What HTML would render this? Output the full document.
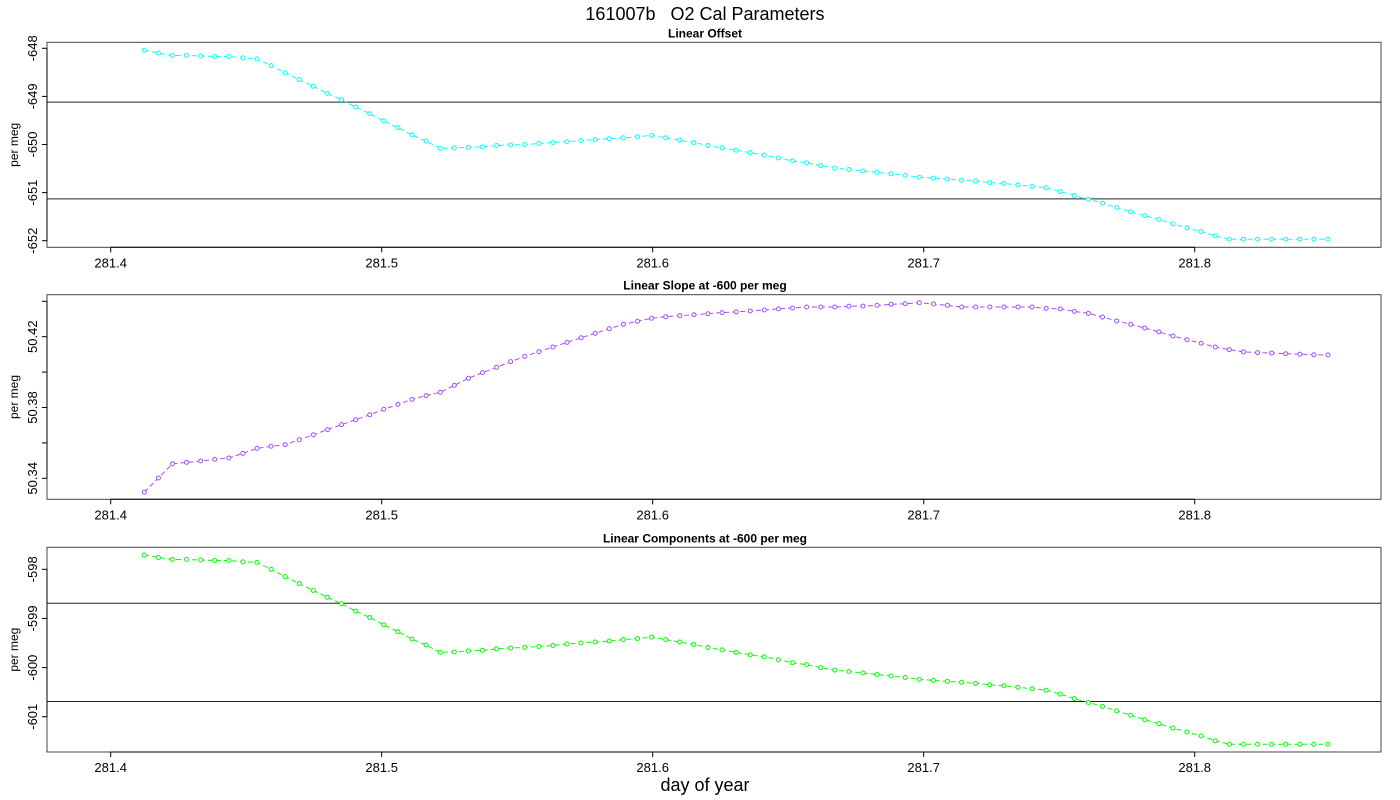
<!DOCTYPE html>
<html><head><meta charset="utf-8"><style>
html,body{margin:0;padding:0;background:#fff;}
svg{display:block;font-family:"Liberation Sans",sans-serif;}
</style></head><body>
<svg id="chart" width="1400" height="800" viewBox="0 0 1400 800">
<text x="705" y="20" font-size="18" text-anchor="middle" style="white-space:pre" xml:space="preserve">161007b   O2 Cal Parameters</text>
<text x="705" y="791" font-size="18" text-anchor="middle">day of year</text>
</svg>
<script>
const days = [281.4124,281.4176,281.4228,281.4280,281.4332,281.4384,281.4436,281.4488,281.4540,281.4592,
281.4644,281.4696,281.4748,281.4800,281.4852,281.4904,281.4956,281.5008,281.5060,281.5112,
281.5164,281.5216,281.5268,281.5320,281.5372,281.5424,281.5476,281.5528,281.5580,281.5632,
281.5684,281.5736,281.5788,281.5840,281.5892,281.5944,281.5996,281.6048,281.6100,281.6152,
281.6204,281.6256,281.6308,281.6360,281.6412,281.6464,281.6516,281.6568,281.6620,281.6672,
281.6724,281.6776,281.6828,281.6880,281.6932,281.6984,281.7036,281.7088,281.7140,281.7192,
281.7244,281.7296,281.7348,281.7400,281.7452,281.7504,281.7556,281.7608,281.7660,281.7712,
281.7764,281.7816,281.7868,281.7920,281.7972,281.8024,281.8076,281.8128,281.8180,281.8232,
281.8284,281.8336,281.8388,281.8440,281.8492];
const offsetValues = [-648.04,-648.10,-648.15,-648.15,-648.16,-648.17,-648.17,-648.20,-648.22,-648.36,
-648.51,-648.65,-648.79,-648.94,-649.07,-649.22,-649.36,-649.51,-649.65,-649.80,
-649.93,-650.08,-650.07,-650.06,-650.05,-650.02,-650.01,-650.00,-649.98,-649.96,
-649.94,-649.92,-649.90,-649.88,-649.86,-649.84,-649.81,-649.86,-649.91,-649.96,
-650.02,-650.07,-650.12,-650.17,-650.22,-650.28,-650.34,-650.38,-650.44,-650.49,
-650.52,-650.55,-650.58,-650.61,-650.64,-650.68,-650.70,-650.72,-650.74,-650.76,
-650.79,-650.81,-650.84,-650.87,-650.90,-650.98,-651.06,-651.14,-651.22,-651.31,
-651.40,-651.48,-651.56,-651.65,-651.73,-651.81,-651.90,-651.97,-651.97,-651.97,
-651.97,-651.97,-651.97,-651.97,-651.97];
const slopeValues = [50.3321,50.3402,50.3482,50.3490,50.3498,50.3507,50.3515,50.3541,50.3569,50.3581,
50.3590,50.3618,50.3646,50.3675,50.3703,50.3731,50.3759,50.3790,50.3818,50.3846,
50.3867,50.3886,50.3925,50.3965,50.3997,50.4027,50.4059,50.4089,50.4115,50.4142,
50.4168,50.4194,50.4219,50.4245,50.4270,50.4287,50.4304,50.4313,50.4319,50.4324,
50.4330,50.4336,50.4340,50.4345,50.4351,50.4357,50.4362,50.4368,50.4368,50.4368,
50.4372,50.4373,50.4377,50.4383,50.4386,50.4392,50.4385,50.4377,50.4368,50.4368,
50.4368,50.4368,50.4368,50.4368,50.4360,50.4357,50.4343,50.4332,50.4311,50.4289,
50.4270,50.4249,50.4227,50.4204,50.4183,50.4163,50.4142,50.4127,50.4114,50.4110,
50.4108,50.4104,50.4101,50.4098,50.4097];
const componentValues = [-597.71,-597.76,-597.80,-597.80,-597.81,-597.82,-597.82,-597.85,-597.86,-598.00,
-598.15,-598.29,-598.43,-598.57,-598.70,-598.85,-598.98,-599.13,-599.27,-599.42,
-599.54,-599.69,-599.68,-599.66,-599.65,-599.62,-599.60,-599.59,-599.57,-599.55,
-599.52,-599.50,-599.48,-599.46,-599.43,-599.41,-599.38,-599.43,-599.48,-599.53,
-599.59,-599.64,-599.69,-599.74,-599.78,-599.84,-599.90,-599.94,-600.00,-600.05,
-600.08,-600.11,-600.14,-600.17,-600.20,-600.24,-600.26,-600.28,-600.30,-600.32,
-600.35,-600.37,-600.40,-600.43,-600.46,-600.54,-600.63,-600.71,-600.79,-600.88,
-600.97,-601.06,-601.14,-601.23,-601.31,-601.39,-601.49,-601.56,-601.56,-601.56,
-601.56,-601.56,-601.56,-601.56,-601.56];
const xTicks = [281.4,281.5,281.6,281.7,281.8];
const xTickLabels = ["281.4","281.5","281.6","281.7","281.8"];
const offsetTicks = [-648,-649,-650,-651,-652];
const offsetTickLabels = ["-648","-649","-650","-651","-652"];
const slopeTicks = [50.34,50.36,50.38,50.40,50.42,50.44];
const slopeTickLabels = ["50.34","","50.38","","50.42",""];
const compTicks = [-598,-599,-600,-601];
const compTickLabels = ["-598","-599","-600","-601"];
const offsetRefLines = [-649.12,-651.13];
const compRefLines = [-598.69,-600.69];

const NS = "http://www.w3.org/2000/svg";
const svg = document.getElementById('chart');
function mk(tag, attrs, parent){
  const e = document.createElementNS(NS, tag);
  for (const k in attrs) e.setAttribute(k, attrs[k]);
  (parent||svg).appendChild(e);
  return e;
}
const xScale = v => 110.7 + (v - 281.4) * 2710;
const L = 47, R = 1381;

const panels = [
  {key:'offset', title:'Linear Offset', top:42.3, bottom:247.3, vals:offsetValues, color:'#00ffff',
   ticks:offsetTicks, labels:offsetTickLabels, refs:offsetRefLines,
   y: v => 48.3 + (-648 - v) * 48.1},
  {key:'slope', title:'Linear Slope at -600 per meg', top:294.7, bottom:499.3, vals:slopeValues, color:'#a64dff',
   ticks:slopeTicks, labels:slopeTickLabels, refs:[],
   y: v => 478.3 - (v - 50.34) * 1770},
  {key:'components', title:'Linear Components at -600 per meg', top:547.3, bottom:752, vals:componentValues, color:'#00ff00',
   ticks:compTicks, labels:compTickLabels, refs:compRefLines,
   y: v => 569.3 + (-598 - v) * 49.15}
];

panels.forEach(p => {
  const g = mk('g', {});
  
  
  const t = mk('text', {x:705, y:p.top - 5, 'font-size':12, 'font-weight':'bold', 'text-anchor':'middle'}, g);
  t.textContent = p.title;
  
  
  const box = mk('rect', {x:L, y:p.top, width:R-L, height:p.bottom-p.top, fill:'none', stroke:'#444', 'stroke-width':1}, g);
  
  
  p.refs.forEach(r => {
    const ln = mk('line', {x1:L, x2:R, y1:p.y(r), y2:p.y(r), stroke:'#222', 'stroke-width':1}, g);
    
    
  });
  const xa = mk('line', {x1:xScale(xTicks[0]), x2:xScale(xTicks[xTicks.length-1]), y1:p.bottom, y2:p.bottom, stroke:'#000'}, g);
  
  
  xTicks.forEach((v,i) => {
    const x = xScale(v);
    mk('line', {x1:x, x2:x, y1:p.bottom, y2:p.bottom+5, stroke:'#000'}, g);
    const tl = mk('text', {x:x, y:p.bottom+20, 'font-size':13, 'text-anchor':'middle'}, g);
    tl.textContent = xTickLabels[i];
    
    
  });
  const ya = mk('line', {x1:L, x2:L, y1:p.y(p.ticks[0]), y2:p.y(p.ticks[p.ticks.length-1]), stroke:'#000'}, g);
  
  
  p.ticks.forEach((v,i) => {
    const y = p.y(v);
    mk('line', {x1:L-5, x2:L, y1:y, y2:y, stroke:'#000'}, g);
    if (p.labels[i]) {
      const tl = mk('text', {x:0, y:0, 'font-size':13, 'text-anchor':'middle', transform:`translate(37,${y}) rotate(-90)`}, g);
      tl.textContent = p.labels[i];
      
      
    }
  });
  const yt = mk('text', {x:0, y:0, 'font-size':12, 'text-anchor':'middle', transform:`translate(18,${(p.top+p.bottom)/2}) rotate(-90)`}, g);
  yt.textContent = 'per meg';
  
  
  const pts = days.map((d,i) => xScale(d).toFixed(1) + ',' + p.y(p.vals[i]).toFixed(1)).join(' ');
  const pl = mk('polyline', {points:pts, fill:'none', stroke:p.color, 'stroke-width':1, 'stroke-dasharray':'5,3'}, g);
  
  
  days.forEach((d,i) => {
    const c = mk('circle', {cx:xScale(d), cy:p.y(p.vals[i]), r:2, fill:'#fff', stroke:p.color, 'stroke-width':1}, g);
    
    
  });
});
</script>
</body></html>
